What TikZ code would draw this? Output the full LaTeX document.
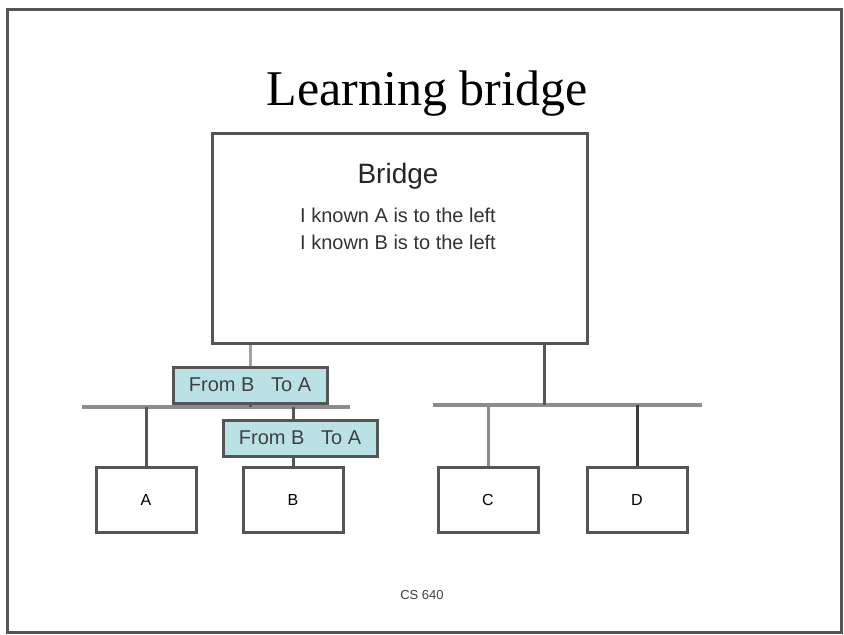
\documentclass[tikz,border=0pt]{standalone}
\usepackage{fontspec}
\setmainfont{Liberation Serif}
\setsansfont{Liberation Sans}
\usetikzlibrary{positioning,backgrounds}

\definecolor{tagfill}{RGB}{186,226,228}
\definecolor{edge}{RGB}{85,85,85}
\definecolor{lan}{RGB}{140,140,140}

\begin{document}
\begin{tikzpicture}[x=1pt,y=-1pt]
\tikzset{
box/.style={rectangle,draw=edge,line width=3pt,fill=white,inner sep=0pt},
host/.style={box,minimum width=100pt,minimum height=65pt,font=\sffamily\fontsize{16}{18}\selectfont},
tag/.style={rectangle,draw=edge,line width=3pt,fill=tagfill,inner sep=0pt,minimum width=154pt,minimum height=36pt,font=\sffamily\fontsize{20}{22}\selectfont,text=black!75},
lanline/.style={draw=lan,line width=4pt},
drop/.style={draw=edge,line width=3pt},
}
\useasboundingbox (0,0) rectangle (844,635);
\draw[edge,line width=3pt] (7,9) rectangle (841,632);

\node[font=\fontsize{50}{56}\selectfont] (title) at (427,94) {Learning bridge};

% bridge
\node[box,minimum width=375pt,minimum height=210pt] (bridge) at (400,238) {};
\node[font=\sffamily\fontsize{28}{30}\selectfont,text=black!85] (bname) at (398,176) {Bridge};
\node[font=\sffamily\fontsize{20}{27}\selectfont,text=black!80,align=center,below=12pt of bname] (known) {I known A is to the left\\I known B is to the left};

% LANs
\coordinate (lanLa) at (82,407);
\coordinate (lanLb) at (350,407);
\coordinate (lanRa) at (433,405);
\coordinate (lanRb) at (702,405);

% hosts
\node[host] (A) at (146,500) {A};
\node[host] (B) at (293,500) {B};
\node[host] (C) at (488,500) {C};
\node[host] (D) at (637,500) {D};

% frames in flight
\node[tag] (tag1) at (250,385) {From B~~~To A};
\node[tag] (tag2) at (300,438) {From B~~~To A};

\begin{scope}[on background layer]
\draw[lanline] (lanLa) -- (lanLb);
\draw[lanline] (lanRa) -- (lanRb);
\draw[drop,draw=lan!80] (bridge.south -| tag1.north) -- (tag1.north);
\draw[drop] (tag1.south) -- (tag1.south |- lanLa);
\draw[drop] (bridge.south -| 544,0) -- (544,405);
\draw[drop] (A.north) -- (A.north |- lanLa);
\draw[drop] (B.north) -- (tag2.south -| B.north);
\draw[drop] (tag2.north -| B.north) -- (B.north |- lanLa);
\draw[drop,draw=lan] (C.north) -- (C.north |- lanRa);
\draw[drop,draw=edge!70!black] (D.north) -- (D.north |- lanRa);
\end{scope}

\node[font=\sffamily\fontsize{13}{15}\selectfont,text=black!75] (footer) at (422,595) {CS 640};
\end{tikzpicture}
\end{document}
